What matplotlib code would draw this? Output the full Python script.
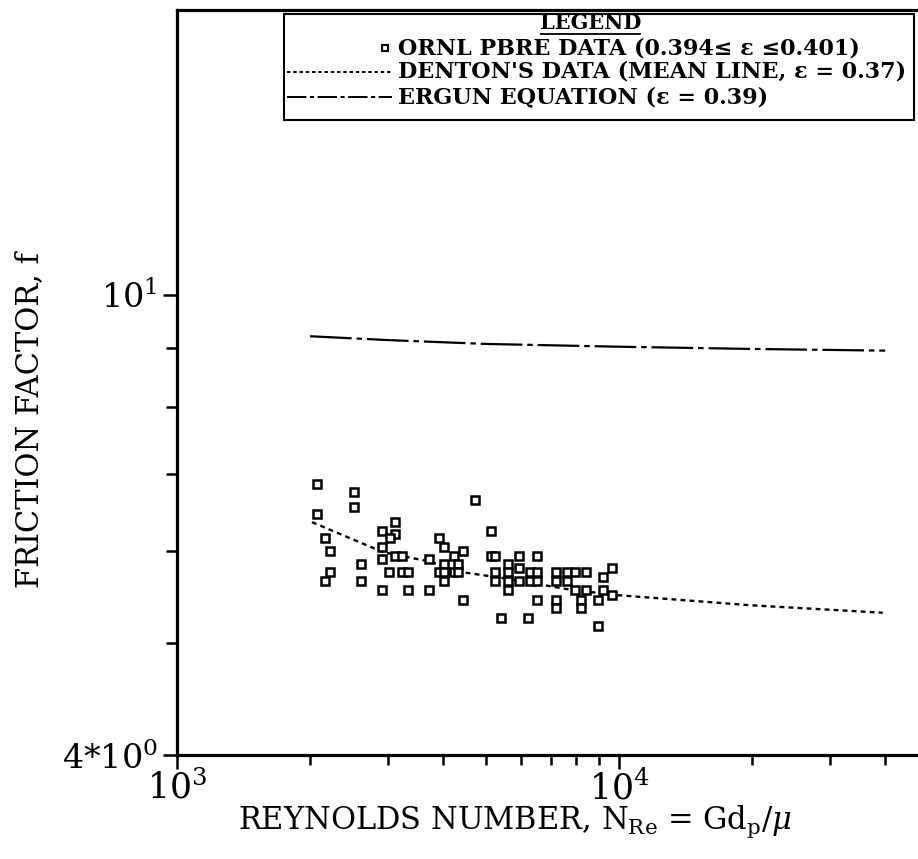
import matplotlib
matplotlib.use("Agg")
import matplotlib.pyplot as plt
from matplotlib.lines import Line2D
from matplotlib.patches import Rectangle
from matplotlib.ticker import FixedLocator, NullFormatter, FixedFormatter

plt.rcParams['font.family'] = ['DejaVu Serif']
plt.rcParams['mathtext.fontset'] = 'dejavuserif'
plt.rcParams['lines.scale_dashes'] = False

# ORNL PBRE friction factor measurements
re_pbre = [2070, 2070, 2160, 2220, 2220, 2160, 2520, 2520, 2610, 2610,
           2910, 2910, 2910, 2910, 3120, 3120, 3030, 3120, 3230, 3020,
           3230, 3330, 3330, 3720, 3720, 3920, 4020, 4020, 3920, 4020,
           4020, 4230, 4330, 4440, 4230, 4330, 4440, 4720, 5130, 5130,
           5230, 5230, 5230, 5620, 5620, 5620, 5620, 5930, 5930, 5930,
           5410, 6220, 6290, 6290, 6520, 6520, 6520, 6520, 7200, 7200,
           7200, 7200, 7620, 7620, 7950, 7950, 8410, 8410, 8200, 8200,
           8980, 9220, 9220, 8980, 9640, 9640]
f_pbre = [6.86, 6.47, 6.16, 6.01, 5.76, 5.66, 6.76, 6.56, 5.85, 5.66,
          6.25, 6.05, 5.91, 5.56, 6.36, 6.21, 6.16, 5.95, 5.95, 5.76,
          5.76, 5.76, 5.56, 5.56, 5.91, 6.16, 6.05, 5.85, 5.76, 5.76,
          5.66, 5.95, 5.85, 6.01, 5.76, 5.76, 5.45, 6.65, 6.25, 5.95,
          5.95, 5.76, 5.66, 5.85, 5.76, 5.66, 5.56, 5.81, 5.95, 5.66,
          5.25, 5.25, 5.76, 5.66, 5.95, 5.76, 5.66, 5.45, 5.76, 5.66,
          5.45, 5.36, 5.76, 5.66, 5.76, 5.56, 5.76, 5.56, 5.45, 5.36,
          5.17, 5.70, 5.56, 5.45, 5.81, 5.50]

# Denton mean line (eps = 0.37)
re_denton = [2020, 2930, 3730, 4370, 5460, 7750, 9890, 19800, 39500]
f_denton = [6.36, 5.99, 5.88, 5.76, 5.69, 5.56, 5.50, 5.39, 5.31]

# Ergun equation (eps = 0.39)
re_ergun = [2000, 3000, 5000, 10000, 20000, 40000]
f_ergun = [9.21, 9.14, 9.07, 9.02, 8.98, 8.95]

legend_lines = ["ORNL PBRE DATA (0.394\u2264 \u03b5 \u22640.401)",
                "DENTON'S DATA (MEAN LINE, \u03b5 = 0.37)",
                "ERGUN EQUATION (\u03b5 = 0.39)"]

fig = plt.figure(figsize=(9.18, 8.59), dpi=100)
ax = fig.add_axes([0.1928, 0.1211, 0.8181, 0.8673])
ax.set_xscale('log')
ax.set_yscale('log')
ax.set_xlim(1e3, 5e4)
ax.set_ylim(4, 17.64)

marker_style = dict(marker='s', ms=6.3, mfc='white', mec='black', mew=1.8, ls='none')
ax.plot(re_pbre, f_pbre, **marker_style, zorder=3)
ax.plot(re_denton, f_denton, color='black', lw=1.7, dashes=(3.5, 3))
ax.plot(re_ergun, f_ergun, color='black', lw=1.6, dashes=(30, 3.5, 4, 3.5))

for s in ax.spines.values():
    s.set_linewidth(2.3)

ax.xaxis.set_major_locator(FixedLocator([1e3, 1e4]))
ax.xaxis.set_major_formatter(FixedFormatter([r'$10^{3}$', r'$10^{4}$']))
ax.xaxis.set_minor_locator(FixedLocator([2e3, 3e3, 4e3, 5e3, 6e3, 7e3, 8e3, 9e3, 2e4, 3e4, 4e4]))
ax.xaxis.set_minor_formatter(NullFormatter())
ax.yaxis.set_major_locator(FixedLocator([4, 10]))
ax.yaxis.set_major_formatter(FixedFormatter([r'$4{*}10^{0}$', r'$10^{1}$']))
ax.yaxis.set_minor_locator(FixedLocator([5, 6, 7, 8, 9]))
ax.yaxis.set_minor_formatter(NullFormatter())

ax.tick_params(axis='x', which='major', direction='out', length=10, width=1.8, labelsize=25, pad=1)
ax.tick_params(axis='x', which='minor', direction='out', length=7, width=1.8)
ax.tick_params(axis='y', which='major', direction='out', length=10, width=1.8, labelsize=24, pad=4)
ax.tick_params(axis='y', which='minor', direction='out', length=8, width=1.8)

ax.set_xlabel(r'REYNOLDS NUMBER, N$_{\rm Re}$ = Gd$_{\rm p}$/$\mu$', fontsize=22)
ax.xaxis.set_label_coords(0.45, -0.066)
ax.set_ylabel('FRICTION FACTOR, f', fontsize=22)
ax.yaxis.set_label_coords(-0.176, 0.45)

# legend box drawn by hand in figure coordinates
tf = fig.transFigure
fig.patches.append(Rectangle((0.3094, 0.8603), 0.6862, 0.1234, transform=tf,
                             fill=False, ec='black', lw=1.5))
fig.text(0.643, 0.9735, 'LEGEND', transform=tf, ha='center', va='center',
         fontsize=15, fontweight='bold')
fig.lines.append(Line2D([0.589, 0.697], [0.9604, 0.9604], transform=tf, color='black', lw=1.3))
fig.lines.append(Line2D([0.4194], [0.9441], transform=tf, marker='s', ms=4.5,
                        mfc='white', mec='black', mew=1.5))
fig.lines.append(Line2D([0.3126, 0.4270], [0.9162, 0.9162], transform=tf,
                        color='black', lw=1.4, dashes=(2.5, 2)))
fig.lines.append(Line2D([0.3126, 0.4270], [0.8871, 0.8871], transform=tf,
                        color='black', lw=1.4, dashes=(14, 2.5, 3, 2.5)))
for y, txt in zip([0.9441, 0.9162, 0.8871], legend_lines):
    fig.text(0.4336, y, txt, transform=tf, ha='left', va='center',
             fontsize=16, fontweight='bold')

fig.savefig('out.png', dpi=100)
